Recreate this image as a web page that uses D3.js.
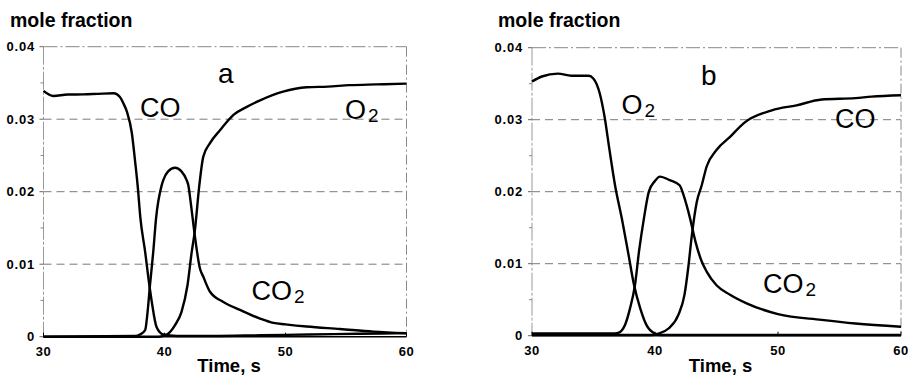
<!DOCTYPE html>
<html>
<head>
<meta charset="utf-8">
<script src="https://cdn.jsdelivr.net/npm/d3@7"></script>
<style>
  html, body { margin: 0; padding: 0; background: #fff; }
  svg { display: block; }
  text { font-family: "Liberation Sans", Arial, sans-serif; fill: #000; }
</style>
</head>
<body>
<svg id="chart" width="909" height="377"></svg>
<script>
// Tick labels
const xTicks = [30, 40, 50, 60];
const yTicks = [0, 0.01, 0.02, 0.03, 0.04];
const yTickLabels = ["0", "0.01", "0.02", "0.03", "0.04"];
const yMinorTicks = [0.005, 0.015, 0.025, 0.035];

// Panel a: CO + O2 pulses, CO2 product
const aCO_t = [30, 30.8, 32, 33.3, 34.5, 35.8, 36.3, 36.6, 36.9, 37.3, 37.55, 37.8, 38.0, 38.4, 38.75, 38.95, 39.35, 39.9, 41, 44, 48, 52, 56, 60];
const aCO_v = [0.0339, 0.0332, 0.0334, 0.03343, 0.0335, 0.03357, 0.0331, 0.0322, 0.0310, 0.0281, 0.0245, 0.0205, 0.0165, 0.0117, 0.0071, 0.0048, 0.0013, 0.0003, 0.0001, 0.0001, 0.0002, 0.0003, 0.0004, 0.0005];
const aCO2_t = [30, 37.6, 37.97, 38.4, 38.6, 38.8, 39.07, 39.3, 39.77, 39.9, 40.3, 40.87, 41.4, 41.83, 41.97, 42.16, 42.5, 42.93, 43.2, 43.76, 44.86, 46.24, 47.9, 49, 50, 51.75, 54.5, 57.26, 60];
const aCO2_v = [0, 0.0001, 0.0003, 0.0009, 0.0034, 0.0071, 0.0117, 0.0163, 0.0209, 0.0216, 0.0228, 0.0233, 0.0228, 0.0216, 0.0209, 0.0186, 0.014, 0.0094, 0.0083, 0.0062, 0.0048, 0.0037, 0.0025, 0.0019, 0.0017, 0.0014, 0.00106, 0.0007, 0.00047];
const aO2_t = [30, 39.5, 40.2, 40.87, 41.4, 41.9, 42.25, 42.5, 42.88, 43.2, 43.76, 44.6, 45.7, 46.8, 47.9, 49.8, 51.75, 53.5, 55.3, 57.5, 60];
const aO2_v = [0, 0, 0.0003, 0.0016, 0.0034, 0.0071, 0.0117, 0.0145, 0.0209, 0.0248, 0.0267, 0.0285, 0.0306, 0.0317, 0.0326, 0.0338, 0.0344, 0.0345, 0.0347, 0.0348, 0.0349];

// Panel b: O2 + CO pulses, CO2 product
const bO2_t = [30, 30.8, 32.1, 33.2, 34.6, 35, 35.5, 35.9, 36.3, 36.75, 37.3, 37.8, 38.3, 38.8, 39.3, 40, 40.5, 45, 60];
const bO2_v = [0.0353, 0.036, 0.0364, 0.0361, 0.0361, 0.0357, 0.0337, 0.0304, 0.0258, 0.0209, 0.0163, 0.0117, 0.007, 0.0038, 0.0015, 0.0003, 0.0001, 0.0001, 0.0001];
const bCO2_t = [30, 36.5, 37.0, 37.56, 37.97, 38.37, 38.7, 39.1, 39.5, 40.0, 40.4, 41.2, 42.0, 42.4, 42.85, 43.3, 43.8, 44.2, 45, 46.1, 47.45, 50, 53.55, 56.3, 60];
const bCO2_v = [0.0003, 0.0003, 0.0004, 0.0015, 0.0038, 0.007, 0.0117, 0.0163, 0.02, 0.0215, 0.0221, 0.0216, 0.0209, 0.0191, 0.0163, 0.013, 0.0103, 0.0089, 0.007, 0.0057, 0.0045, 0.003, 0.0022, 0.0017, 0.00125];
const bCO_t = [30, 39.8, 40.3, 41.1, 41.9, 42.4, 42.7, 43, 43.4, 43.8, 44.2, 45, 46.1, 47.2, 49.5, 51.5, 53.55, 56.3, 57.6, 60];
const bCO_v = [0.0001, 0.0001, 0.0003, 0.001, 0.0029, 0.0057, 0.0094, 0.014, 0.0186, 0.0209, 0.0235, 0.0258, 0.0276, 0.0295, 0.0313, 0.032, 0.0328, 0.033, 0.0332, 0.0334];

const zip = (t, v) => t.map((d, i) => [d, v[i]]);

const panels = [
  {
    xr: [43.5, 406.5], yr: [336.7, 46.7], titleX: 10, tickRight: 35,
    series: [zip(aCO_t, aCO_v), zip(aCO2_t, aCO2_v), zip(aO2_t, aO2_v)],
    letter: { text: "a", x: 218, y: 83 },
    labels: [
      { main: "CO", x: 140, y: 117 },
      { main: "O", sub: "2", x: 345, y: 119 },
      { main: "CO", sub: "2", x: 251.5, y: 300 }
    ]
  },
  {
    xr: [532, 901], yr: [335.7, 47.7], titleX: 498, tickRight: 523,
    series: [zip(bO2_t, bO2_v), zip(bCO2_t, bCO2_v), zip(bCO_t, bCO_v)],
    letter: { text: "b", x: 701, y: 85 },
    labels: [
      { main: "O", sub: "2", x: 621.5, y: 114 },
      { main: "CO", x: 835, y: 128 },
      { main: "CO", sub: "2", x: 763, y: 293 }
    ]
  }
];

const svg = d3.select("#chart");

panels.forEach(p => {
  const x = d3.scaleLinear().domain([30, 60]).range(p.xr);
  const y = d3.scaleLinear().domain([0, 0.04]).range(p.yr);
  const g = svg.append("g");

  // Horizontal dashed grid
  g.selectAll("line.grid").data([0.01, 0.02, 0.03]).join("line")
    .attr("x1", x(30)).attr("x2", x(60))
    .attr("y1", d => y(d)).attr("y2", d => y(d))
    .attr("stroke", "#7a7a7a").attr("stroke-width", 1)
    .attr("stroke-dasharray", "8,5");

  // Frame: top and right dashed, left thin grey
  g.append("line").attr("x1", x(30)).attr("x2", x(60)).attr("y1", y(0.04)).attr("y2", y(0.04))
    .attr("stroke", "#888").attr("stroke-width", 1).attr("stroke-dasharray", "14,3,2,3");
  g.append("line").attr("x1", x(60)).attr("x2", x(60)).attr("y1", y(0.04)).attr("y2", y(0))
    .attr("stroke", "#888").attr("stroke-width", 1).attr("stroke-dasharray", "10,3,2,3");
  g.append("line").attr("x1", x(30)).attr("x2", x(30)).attr("y1", y(0.04)).attr("y2", y(0))
    .attr("stroke", "#999").attr("stroke-width", 1).attr("stroke-dasharray", "18,2,3,2");

  // Y ticks (outward) and labels
  g.selectAll("line.ymaj").data(yTicks).join("line")
    .attr("x1", x(30) - 4).attr("x2", x(30))
    .attr("y1", d => y(d)).attr("y2", d => y(d))
    .attr("stroke", "#666").attr("stroke-width", 1);
  g.selectAll("line.ymin").data(yMinorTicks).join("line")
    .attr("x1", x(30) - 3).attr("x2", x(30))
    .attr("y1", d => y(d)).attr("y2", d => y(d))
    .attr("stroke", "#888").attr("stroke-width", 1);
  g.selectAll("text.ylab").data(yTicks).join("text")
    .attr("x", p.tickRight).attr("y", d => y(d) + 4.5)
    .attr("text-anchor", "end")
    .style("font-size", "13px").style("font-weight", "bold").style("letter-spacing", "0.8px")
    .text((d, i) => yTickLabels[i]);

  // X axis: solid baseline, inward ticks, labels
  g.append("line").attr("x1", x(30)).attr("x2", x(60)).attr("y1", y(0)).attr("y2", y(0))
    .attr("stroke", "#000").attr("stroke-width", 1.6);
  g.selectAll("line.xt").data(xTicks).join("line")
    .attr("x1", d => x(d)).attr("x2", d => x(d))
    .attr("y1", y(0)).attr("y2", y(0) - 4)
    .attr("stroke", "#000").attr("stroke-width", 1);
  g.selectAll("text.xlab").data(xTicks).join("text")
    .attr("x", d => x(d)).attr("y", y(0) + 19)
    .attr("text-anchor", "middle")
    .style("font-size", "13px").style("font-weight", "bold").style("letter-spacing", "0.5px")
    .text(d => d);

  // Axis titles
  g.append("text").attr("x", p.titleX).attr("y", 26.5)
    .style("font-size", "19.5px").style("font-weight", "bold")
    .text("mole fraction");
  g.append("text").attr("x", (x(40) + x(50)) / 2 + 4).attr("y", 372)
    .attr("text-anchor", "middle")
    .style("font-size", "18.5px").style("font-weight", "bold")
    .text("Time, s");

  // Concentration curves
  const line = d3.line().x(d => x(d[0])).y(d => y(d[1])).curve(d3.curveMonotoneX);
  g.selectAll("path.curve").data(p.series).join("path")
    .attr("d", line)
    .attr("fill", "none").attr("stroke", "#000")
    .attr("stroke-width", 2.4).attr("stroke-linejoin", "round");

  // Panel letter and species labels
  g.append("text").attr("x", p.letter.x).attr("y", p.letter.y)
    .style("font-size", "28px").text(p.letter.text);
  p.labels.forEach(l => {
    const t = g.append("text").attr("x", l.x).attr("y", l.y).style("font-size", "27px");
    t.append("tspan").text(l.main);
    if (l.sub) {
      t.append("tspan").attr("dx", 2).attr("dy", 3).style("font-size", "19px").text(l.sub);
    }
  });
});
</script>
</body>
</html>
